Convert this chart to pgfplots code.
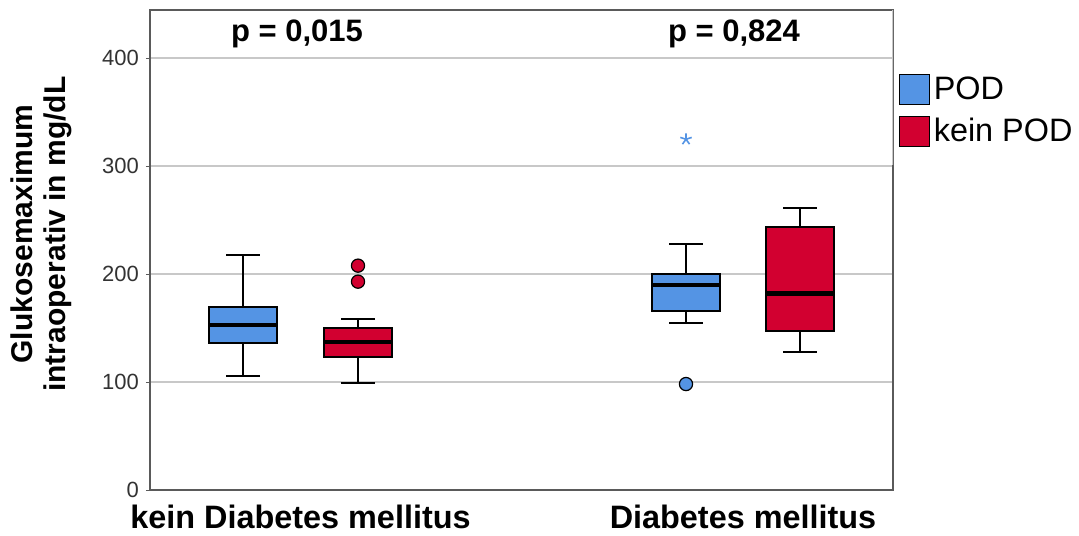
\documentclass[border=0pt]{standalone}
\usepackage{pgfplots}
\pgfplotsset{compat=1.18}
\usepgfplotslibrary{statistics}
\usepackage{fontspec}
\setmainfont{Liberation Sans}
\definecolor{podblue}{RGB}{84,148,228}
\definecolor{podred}{RGB}{210,0,48}
\definecolor{gridgray}{RGB}{200,200,200}
\definecolor{framegray}{RGB}{90,90,90}
\begin{document}
\begin{tikzpicture}
\useasboundingbox (-75pt,-22.5pt) rectangle (464.5pt,245pt);
\begin{axis}[
  at={(0,0)}, anchor=south west,
  scale only axis, width=371.5pt, height=240pt,
  xmin=150, xmax=893, ymin=0, ymax=444.4,
  xtick={300.5,743},
  xticklabels={kein Diabetes mellitus, Diabetes mellitus},
  x tick label style={font=\fontsize{16.2}{18}\selectfont\bfseries, yshift=-2pt},
  major x tick style={draw=none},
  ytick={0,100,200,300,400}, ytick pos=left,
  ymajorgrids, grid style={gridgray, line width=0.75pt},
  axis line style={framegray, line width=0.9pt},
  y tick label style={font=\fontsize{11}{13}\selectfont, text=black!80},
  /pgf/number format/assume math mode=true,
  tick align=outside, major tick length=2pt, ytick style={framegray},
  ylabel={Glukosemaximum\\intraoperativ in mg/dL},
  ylabel style={align=center, font=\fontsize{15}{16.5}\selectfont\bfseries,
    at={(axis description cs:-0.146,0.533)}, anchor=center},
  boxplot/draw direction=y,
  boxplot/every median/.style={line width=2.2pt, black},
  legend style={at={(axis description cs:1.007,0.87)}, anchor=north west,
    draw=none, fill=none, font=\fontsize{16.2}{18}\selectfont,
    row sep=4pt, inner sep=0pt},
  legend cell align=left,
  legend image code/.code={\draw[#1,draw=black,line width=0.6pt] (0pt,-7.5pt) rectangle (15pt,7.5pt);},
]
\addplot[boxplot prepared={draw position=243, lower whisker=105.5, lower quartile=135.8,
  median=152.8, upper quartile=169.7, upper whisker=217.6, box extend=68, whisker extend=34},
  fill=podblue, draw=black, line width=0.9pt, forget plot] coordinates {};
\addplot[boxplot prepared={draw position=358, lower whisker=99.4, lower quartile=122.8,
  median=137.3, upper quartile=149.7, upper whisker=158, box extend=68, whisker extend=34},
  fill=podred, draw=black, line width=0.9pt, forget plot] coordinates {};
\addplot[boxplot prepared={draw position=686, lower whisker=154.3, lower quartile=166,
  median=189.8, upper quartile=199.7, upper whisker=227.8, box extend=68, whisker extend=34},
  fill=podblue, draw=black, line width=0.9pt, forget plot] coordinates {};
\addplot[boxplot prepared={draw position=800, lower whisker=128, lower quartile=147.2,
  median=182, upper quartile=243.8, upper whisker=261.4, box extend=68, whisker extend=34},
  fill=podred, draw=black, line width=0.9pt, forget plot] coordinates {};
\addplot[only marks, mark=*, mark size=3.3pt, mark options={fill=podred, draw=black, line width=0.6pt}, forget plot]
  coordinates {(358,207.7) (358,192.9)};
\addplot[only marks, mark=*, mark size=3.3pt, mark options={fill=podblue, draw=black, line width=0.6pt}, forget plot]
  coordinates {(686,98.1)};
\addplot[only marks, mark=star, mark size=3pt, mark options={draw=podblue, line width=0.8pt}, forget plot]
  coordinates {(686,324.7)};
\addlegendimage{fill=podblue}
\addlegendentry{POD}
\addlegendimage{fill=podred}
\addlegendentry{kein POD}
\draw[gridgray, line width=1pt] (axis cs:893,301) -- (axis cs:893,444.4);
\node[font=\fontsize{15.5}{18}\selectfont\bfseries] at (axis cs:297,422) {p = 0,015};
\node[font=\fontsize{15.5}{18}\selectfont\bfseries] at (axis cs:734,422) {p = 0,824};
\end{axis}
\end{tikzpicture}
\end{document}
